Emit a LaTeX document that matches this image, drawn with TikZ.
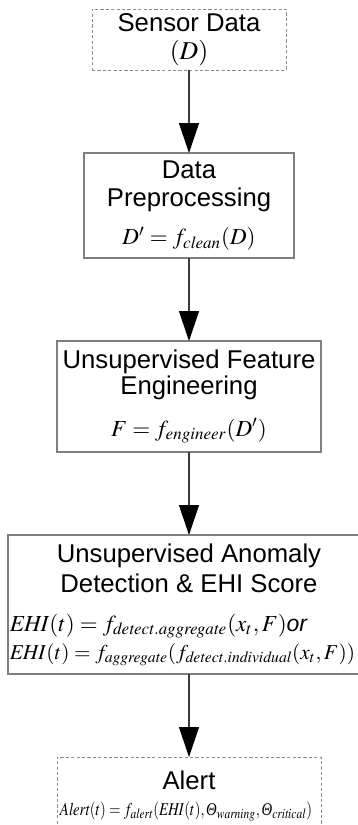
\documentclass[tikz,border=0pt]{standalone}
\usepackage{graphicx}
\usepackage{mathptmx}
\usepackage[no-math]{fontspec}
\setmainfont{Liberation Sans}
\newfontfamily\greekit{Liberation Serif}
\usetikzlibrary{arrows.meta,positioning}
\definecolor{Frame}{HTML}{7F7F7F}
\definecolor{Ends}{HTML}{8C8C8C}
\definecolor{Shaft}{HTML}{3A3A3A}
\newcommand\eqsize{\fontsize{11.5}{14}\selectfont}
\newcommand\Thetait{\mbox{\greekit\itshape Θ}}
\tikzset{
  stage/.style={draw=Frame,line width=.6pt,fill=white,align=center,inner sep=0pt,outer sep=0pt,font=\fontsize{12.85}{14}\selectfont},
  terminal/.style={stage,draw=Ends,line width=.5pt,dash pattern=on 1.6pt off 1.1pt},
  flow/.style={-{Triangle[length=15pt,width=10pt,color=black]},draw=Shaft,line width=.55pt}
}
\begin{document}
\begin{tikzpicture}[node distance=41.5pt]
      \useasboundingbox (0,0) rectangle (179pt,-412.5pt);
      \node[terminal,minimum width=97pt,minimum height=30.5pt] (sensor) at (94.5pt,-19.75pt) {Sensor Data\\$(D)$};
      \node[stage,minimum width=105pt,minimum height=52.5pt,below=of sensor] (prep) {Data\\Preprocessing\\[5pt]{\eqsize$D'=f_{\mathit{clean}}(D)$}};
      \node[stage,minimum width=132pt,minimum height=55.5pt,below=of prep] (feature) {Unsupervised Feature\\[-1pt]Engineering\\[7pt]{\eqsize$F=f_{\mathit{engineer}}(D')$}};
      \node[stage,minimum width=181pt,minimum height=69.5pt,below=of feature] (score) {Unsupervised Anomaly\\[1pt]Detection \& EHI Score\\[5.5pt]
        \makebox[179pt][l]{\eqsize$\mathit{EHI}(t)=f_{\mathit{detect.aggregate}}(x_t,F)$\textit{or}}\\
        \makebox[179pt][l]{\resizebox{172.5pt}{!}{\eqsize$\mathit{EHI}(t)=f_{\mathit{aggregate}}(f_{\mathit{detect.individual}}(x_t,F))$}}};
      \node[terminal,minimum width=132pt,minimum height=39pt,below=of score] (alert) {Alert\\[-1pt]
        \makebox[132pt][l]{\hspace{1.5pt}\resizebox{126pt}{\height}{\fontsize{9}{14}\selectfont$\mathit{Alert}(t)=f_{\mathit{alert}}(\mathit{EHI}(t),\Thetait_{\mathit{warning}},\Thetait_{\mathit{critical}})$}}};
      \draw[flow] (sensor) -- (prep);
      \draw[flow] (prep) -- (feature);
      \draw[flow] (feature) -- (score);
      \draw[flow] (score) -- (alert);
    \end{tikzpicture}
\end{document}
